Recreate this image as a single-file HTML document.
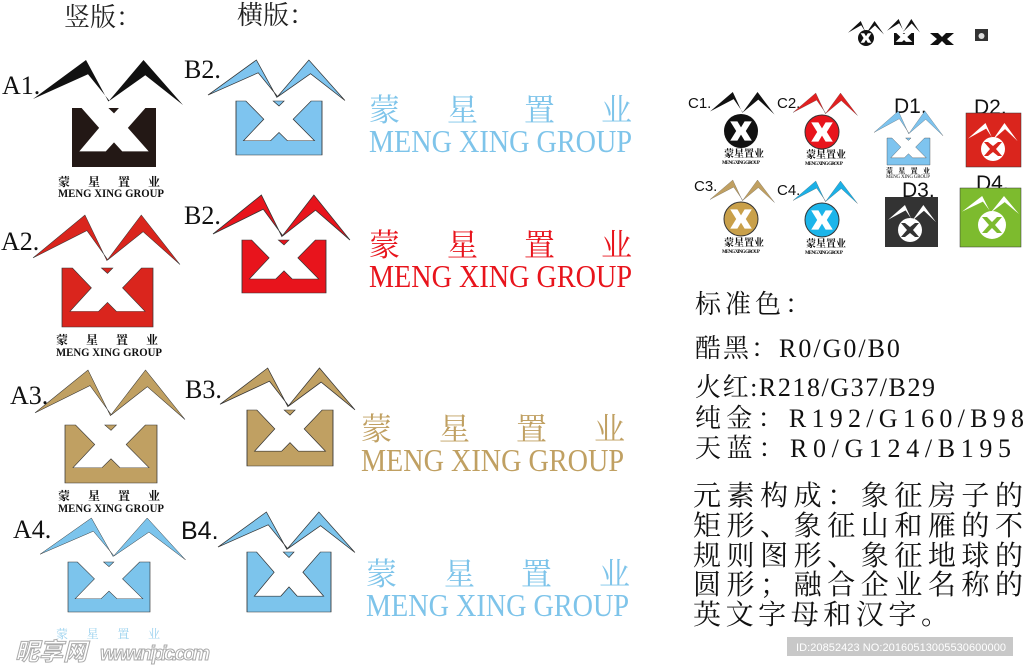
<!DOCTYPE html>
<html><head><meta charset="utf-8"><style>
html,body{margin:0;padding:0;background:#fff;width:1024px;height:667px;overflow:hidden}
svg{display:block}
.s{font-family:"Liberation Serif","Noto Serif CJK SC",serif}
.c{font-family:"Liberation Serif","Noto Serif CJK SC",serif}
.k{font-family:"Liberation Sans","Noto Sans CJK SC",sans-serif}
</style></head><body>
<svg width="1024" height="667" viewBox="0 0 1024 667" xmlns="http://www.w3.org/2000/svg">
<defs>
<polygon id="wing" points="0,39 53,0 75.4,41.5 110.5,0 150,45 112.3,15.2 76.4,40.8 55,14.2"/>
<g id="box"><polygon points="0,0 11.4,0 32.3,33.7 8.7,73.6 40.2,73.6 50,58.3 59.8,73.6 91.3,73.6 66.5,33.7 87.4,0 100,0 100,100 0,100"/><polygon points="43.3,0 55.9,0 50,9.2"/></g>
<polygon id="xw" points="-9,-8 -3,-8 0,-3 3,-8 9,-8 4,0 9,8 3,8 0,3 -3,8 -9,8 -4,0" fill="#fff"/>
</defs>

<!-- headers -->
<text x="64" y="26" class="c" font-size="26" fill="#222">竖版：</text>
<text x="237" y="24" class="c" font-size="26" fill="#222">横版：</text>

<!-- A labels -->
<text x="2" y="94" class="s" font-size="26" fill="#111">A1.</text>
<text x="1" y="250" class="s" font-size="26" fill="#111">A2.</text>
<text x="10" y="404" class="s" font-size="26" fill="#111">A3.</text>
<text x="13" y="538" class="s" font-size="26" fill="#111">A4.</text>

<!-- A1 -->
<use href="#wing" transform="translate(33,60)" fill="#111"/>
<use href="#box" transform="translate(72,108) scale(0.84,0.59)" fill="#231815"/>
<text x="58" y="186" class="c" font-size="12" font-weight="bold" fill="#111" textLength="102">蒙 星 置 业</text>
<text x="58" y="197" class="s" font-size="12" font-weight="bold" fill="#111" textLength="106" lengthAdjust="spacingAndGlyphs">MENG XING GROUP</text>
<!-- A2 -->
<use href="#wing" transform="translate(33,215) scale(0.98,1.1)" fill="#da251d" stroke="#333" stroke-width="0.5"/>
<use href="#box" transform="translate(62,268) scale(0.91,0.59)" fill="#da251d" stroke="#333" stroke-width="0.8"/>
<text x="56" y="344" class="c" font-size="12" font-weight="bold" fill="#111" textLength="102">蒙 星 置 业</text>
<text x="56" y="356" class="s" font-size="12" font-weight="bold" fill="#111" textLength="106" lengthAdjust="spacingAndGlyphs">MENG XING GROUP</text>
<!-- A3 -->
<use href="#wing" transform="translate(35,370) scale(1,1.1)" fill="#c0a062" stroke="#333" stroke-width="0.5"/>
<use href="#box" transform="translate(65,425) scale(0.92,0.58)" fill="#c0a062" stroke="#333" stroke-width="0.8"/>
<text x="58" y="500" class="c" font-size="12" font-weight="bold" fill="#111" textLength="102">蒙 星 置 业</text>
<text x="58" y="512" class="s" font-size="12" font-weight="bold" fill="#111" textLength="106" lengthAdjust="spacingAndGlyphs">MENG XING GROUP</text>
<!-- A4 -->
<use href="#wing" transform="translate(40,518) scale(0.97,0.93)" fill="#7cc4ec" stroke="#333" stroke-width="0.5"/>
<use href="#box" transform="translate(68,562) scale(0.82,0.5)" fill="#7cc4ec" stroke="#333" stroke-width="0.8"/>
<text x="56" y="638" class="c" font-size="12" fill="#9cd2ef" textLength="104">蒙 星 置 业</text>

<!-- B labels -->
<text x="184" y="78" class="s" font-size="26" fill="#111">B2.</text>
<text x="184" y="224" class="s" font-size="26" fill="#111">B2.</text>
<text x="185" y="398" class="s" font-size="26" fill="#111">B3.</text>
<text x="181" y="539" class="k" font-size="25" fill="#111">B4.</text>

<!-- B logos -->
<use href="#wing" transform="translate(208,60) scale(0.913,0.9)" fill="#7ec4ef" stroke="#333" stroke-width="0.8"/>
<use href="#box" transform="translate(236,101) scale(0.86,0.54)" fill="#7ec4ef" stroke="#333" stroke-width="1"/>
<use href="#wing" transform="translate(213,195) scale(0.913,1)" fill="#e8141c" stroke="#333" stroke-width="0.8"/>
<use href="#box" transform="translate(242,240) scale(0.84,0.53)" fill="#e8141c" stroke="#333" stroke-width="1"/>
<use href="#wing" transform="translate(220,368) scale(0.9,0.93)" fill="#c0a062" stroke="#333" stroke-width="0.8"/>
<use href="#box" transform="translate(247,410) scale(0.86,0.56)" fill="#c0a062" stroke="#333" stroke-width="1"/>
<use href="#wing" transform="translate(218,512) scale(0.913,0.9)" fill="#7cc4ec" stroke="#333" stroke-width="0.8"/>
<use href="#box" transform="translate(247,552) scale(0.84,0.6)" fill="#7cc4ec" stroke="#333" stroke-width="1"/>

<!-- B texts -->
<g class="c" font-size="31" fill="#7ec4ea">
<text x="369" y="121">蒙</text><text x="447" y="121">星</text><text x="524" y="121">置</text><text x="601" y="121">业</text>
<text x="369" y="152" font-size="32" textLength="263" lengthAdjust="spacingAndGlyphs">MENG XING GROUP</text>
</g>
<g class="c" font-size="31" fill="#e8141c">
<text x="369" y="256">蒙</text><text x="447" y="256">星</text><text x="524" y="256">置</text><text x="601" y="256">业</text>
<text x="369" y="287" font-size="32" textLength="263" lengthAdjust="spacingAndGlyphs">MENG XING GROUP</text>
</g>
<g class="c" font-size="31" fill="#c0a062">
<text x="361" y="440">蒙</text><text x="439" y="440">星</text><text x="516" y="440">置</text><text x="594" y="440">业</text>
<text x="361" y="471" font-size="32" textLength="263" lengthAdjust="spacingAndGlyphs">MENG XING GROUP</text>
</g>
<g class="c" font-size="31" fill="#7ec4ea">
<text x="366" y="585">蒙</text><text x="444" y="585">星</text><text x="521" y="585">置</text><text x="599" y="585">业</text>
<text x="366" y="616" font-size="32" textLength="263" lengthAdjust="spacingAndGlyphs">MENG XING GROUP</text>
</g>

<!-- top small icons -->
<use href="#wing" transform="translate(848,21) scale(0.24,0.3)" fill="#111"/>
<circle cx="866" cy="38" r="8" fill="#111"/><use href="#xw" transform="translate(866,38) scale(0.6)"/>
<use href="#wing" transform="translate(887,19) scale(0.22,0.3)" fill="#111"/>
<use href="#box" transform="translate(894,33) scale(0.2,0.12)" fill="#111"/>
<polygon points="930,33 938,33 942,37 946,33 954,33 947,39 954,45 946,45 942,41 938,45 930,45 937,39" fill="#111"/>
<rect x="975" y="29" width="13" height="12" fill="#333"/><circle cx="981.5" cy="36" r="3" fill="#ddd"/>

<!-- C -->
<g class="k" font-size="15" fill="#111">
<text x="688" y="108">C1.</text><text x="777" y="108">C2.</text><text x="694" y="191">C3.</text><text x="777" y="195">C4.</text>
</g>
<use href="#wing" transform="translate(710,92) scale(0.43,0.5)" fill="#111"/>
<circle cx="741" cy="131" r="17" fill="#111"/><use href="#xw" transform="translate(741,131) scale(1.2)"/>
<use href="#wing" transform="translate(793,93) scale(0.43,0.5)" fill="#e02020" stroke="#333" stroke-width="0.5"/>
<circle cx="822" cy="132" r="17" fill="#e8141c" stroke="#333"/><use href="#xw" transform="translate(822,132) scale(1.2)"/>
<use href="#wing" transform="translate(710,180) scale(0.43,0.5)" fill="#c0a062" stroke="#333" stroke-width="0.5"/>
<circle cx="741" cy="219" r="17" fill="#c9a04a" stroke="#333"/><use href="#xw" transform="translate(741,219) scale(1.2)"/>
<use href="#wing" transform="translate(793,181) scale(0.43,0.5)" fill="#1cb0e6" stroke="#333" stroke-width="0.5"/>
<circle cx="822" cy="220" r="17" fill="#1cb5ea" stroke="#333"/><use href="#xw" transform="translate(822,220) scale(1.2)"/>
<g class="c" font-weight="bold" fill="#111">
<text x="724" y="157" font-size="10">蒙星置业</text><text x="806" y="158" font-size="10">蒙星置业</text>
<text x="724" y="246" font-size="10">蒙星置业</text><text x="806" y="247" font-size="10">蒙星置业</text>
<text x="722" y="164" font-size="5" textLength="38">MENG XING GROUP</text><text x="805" y="165" font-size="5" textLength="38">MENG XING GROUP</text>
<text x="722" y="253" font-size="5" textLength="38">MENG XING GROUP</text><text x="805" y="254" font-size="5" textLength="38">MENG XING GROUP</text>
</g>

<!-- D -->
<g class="k" font-size="21" fill="#111">
<text x="894" y="113">D1.</text><text x="974" y="114">D2.</text><text x="902" y="197">D3.</text><text x="976" y="190">D4.</text>
</g>
<use href="#wing" transform="translate(874,111) scale(0.46,0.55)" fill="#7ec4ef" stroke="#333" stroke-width="0.5"/>
<use href="#box" transform="translate(887,138) scale(0.43,0.27)" fill="#7ec4ef" stroke="#333" stroke-width="1"/>
<text x="886" y="173" class="c" font-size="7" font-weight="bold" fill="#111" textLength="44">蒙 星 置 业</text>
<text x="886" y="178" class="c" font-size="5" fill="#111" textLength="44">MENG XING GROUP</text>

<rect x="966" y="113" width="55" height="54" fill="#da251d" stroke="#333" stroke-width="0.5"/>
<use href="#wing" transform="translate(968,123) scale(0.33,0.4)" fill="#fff"/>
<circle cx="993" cy="149" r="12" fill="#fff"/><use href="#xw" transform="translate(993,149) scale(0.85)" style="fill:#da251d"/>
<polygon points="984,142 988,142 993,146 998,142 1002,142 996,149 1002,156 998,156 993,152 988,156 984,156 990,149" fill="#da251d"/>

<rect x="885" y="197" width="53" height="50" fill="#333"/>
<use href="#wing" transform="translate(888,205) scale(0.32,0.38)" fill="#fff"/>
<circle cx="910" cy="230" r="12" fill="#fff"/>
<polygon points="901,223 905,223 910,227 915,223 919,223 913,230 919,237 915,237 910,233 905,237 901,237 907,230" fill="#333"/>

<rect x="960" y="188" width="61" height="59" fill="#7dbb2e" stroke="#333" stroke-width="0.5"/>
<use href="#wing" transform="translate(962,196) scale(0.38,0.4)" fill="#fff"/>
<circle cx="992" cy="225" r="14" fill="#fff"/>
<polygon points="982,217 987,217 992,222 997,217 1002,217 995,225 1002,233 997,233 992,228 987,233 982,233 989,225" fill="#7dbb2e"/>

<!-- right texts -->
<text x="695" y="313" class="c" font-size="26" fill="#111" letter-spacing="4">标准色：</text>
<text x="695" y="357" class="c" font-size="26" fill="#111" letter-spacing="2">酷黑：R0/G0/B0</text>
<text x="695" y="396" class="c" font-size="26" fill="#111" textLength="240">火红:R218/G37/B29</text>
<text x="695" y="427" class="c" font-size="26" fill="#111" textLength="329">纯金：R192/G160/B98</text>
<text x="695" y="457" class="c" font-size="26" fill="#111" textLength="316">天蓝：R0/G124/B195</text>
<g class="c" font-size="28" fill="#111">
<text x="693" y="505" textLength="330">元素构成：象征房子的</text>
<text x="693" y="535" textLength="330">矩形、象征山和雁的不</text>
<text x="693" y="565" textLength="330">规则图形、象征地球的</text>
<text x="693" y="594" textLength="330">圆形；融合企业名称的</text>
<text x="693" y="624" textLength="256">英文字母和汉字。</text>
</g>

<!-- watermark -->
<text x="15" y="660" class="k" font-size="24" font-style="italic" font-weight="bold" fill="#fff" stroke="#aaa" stroke-width="1">昵享网</text>
<text x="100" y="660" class="k" font-size="20" font-style="italic" font-weight="bold" fill="#fff" stroke="#aaa" stroke-width="1" textLength="110">www.nipic.com</text>
<rect x="787" y="637" width="226" height="19" fill="#c8c8c8"/>
<text x="796" y="651" class="k" font-size="11" fill="#fff" textLength="210">ID:20852423 NO:20160513005530600000</text>
</svg>
</body></html>
